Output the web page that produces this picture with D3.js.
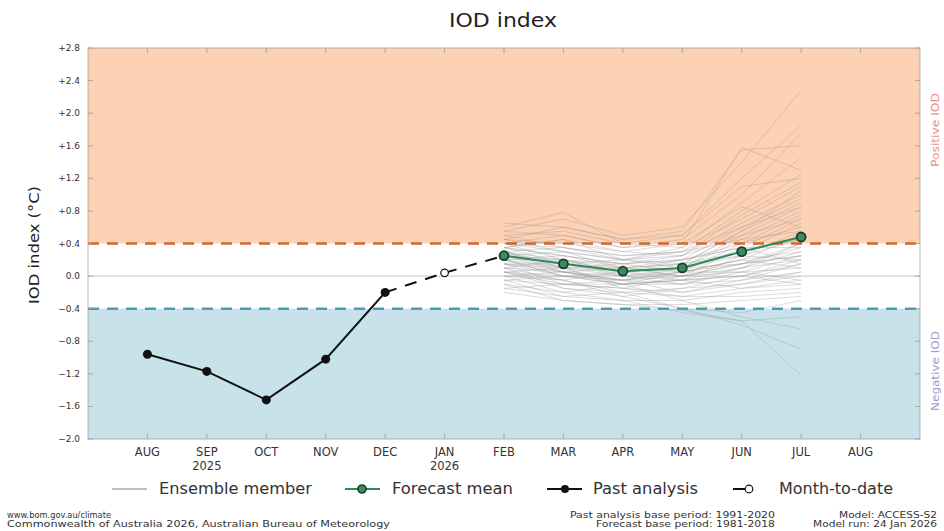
<!DOCTYPE html>
<html>
<head>
    <meta charset="utf-8">
    <script src="https://d3js.org/d3.v7.min.js"></script>
    <style>
        body { margin: 0; background: #fff; }
        svg text { font-family: "DejaVu Sans", sans-serif; }
    </style>
</head>
<body>
    <svg width="944" height="531"></svg>
    <script>
        // month positions: index 0 = AUG 2025 ... 12 = AUG 2026
        const months = ["AUG", "SEP", "OCT", "NOV", "DEC", "JAN", "FEB", "MAR", "APR", "MAY", "JUN", "JUL", "AUG"]
        const yearLabels = {1: "2025", 5: "2026"}
        const yTicks = [2.8, 2.4, 2.0, 1.6, 1.2, 0.8, 0.4, 0.0, -0.4, -0.8, -1.2, -1.6, -2.0]

        // past analysis AUG..DEC
        const pastIdx = [0, 1, 2, 3, 4]
        const pastVal = [-0.96, -1.17, -1.52, -1.02, -0.20]
        // month to date (JAN)
        const mtdIdx = 5
        const mtdVal = 0.04
        // forecast mean FEB..JUL
        const fcIdx = [6, 7, 8, 9, 10, 11]
        const fcVal = [0.25, 0.15, 0.06, 0.10, 0.30, 0.48]

        // ensemble members FEB..JUL (approximate)
        const ensemble = [
            [0.55, 0.70, 0.50, 0.60, 1.40, 2.28],
            [0.45, 0.60, 0.45, 0.55, 1.55, 1.60],
            [0.60, 0.78, 0.40, 0.50, 1.20, 1.85],
            [0.40, 0.50, 0.35, 0.45, 1.00, 1.75],
            [0.35, 0.45, 0.30, 0.40, 1.58, 1.30],
            [0.50, 0.55, 0.40, 0.35, 0.90, 1.45],
            [0.30, 0.35, 0.25, 0.30, 0.80, 1.25],
            [0.65, 0.60, 0.45, 0.50, 1.10, 1.20],
            [0.25, 0.30, 0.20, 0.35, 0.70, 1.10],
            [0.45, 0.40, 0.30, 0.25, 0.65, 1.00],
            [0.35, 0.25, 0.15, 0.20, 0.60, 0.95],
            [0.20, 0.20, 0.10, 0.15, 0.55, 0.90],
            [0.30, 0.10, 0.05, 0.10, 0.50, 0.85],
            [0.15, 0.15, 0.20, 0.30, 0.45, 0.80],
            [0.40, 0.30, 0.10, 0.05, 0.40, 0.75],
            [0.10, 0.05, -0.05, 0.00, 0.35, 0.70],
            [0.25, 0.20, 0.00, 0.10, 0.30, 0.65],
            [0.05, 0.10, 0.10, 0.20, 0.40, 0.60],
            [0.20, 0.00, -0.10, -0.05, 0.25, 0.55],
            [0.35, 0.25, 0.15, 0.05, 0.20, 0.50],
            [0.00, -0.05, 0.05, 0.15, 0.30, 0.45],
            [0.30, 0.15, 0.00, -0.10, 0.10, 0.40],
            [0.15, 0.10, -0.15, 0.00, 0.15, 0.35],
            [-0.05, -0.10, -0.05, 0.05, 0.20, 0.30],
            [0.25, 0.05, 0.10, 0.00, 0.05, 0.25],
            [0.10, -0.15, -0.20, -0.15, 0.00, 0.20],
            [0.40, 0.20, 0.05, 0.20, 0.35, 0.15],
            [-0.10, -0.20, -0.10, -0.10, 0.05, 0.10],
            [0.20, 0.00, -0.05, -0.20, -0.05, 0.05],
            [0.05, -0.05, -0.25, -0.15, -0.10, 0.00],
            [-0.15, -0.25, -0.20, -0.25, -0.15, -0.05],
            [0.30, 0.10, -0.10, -0.05, 0.00, -0.10],
            [0.00, -0.20, -0.30, -0.30, -0.20, -0.15],
            [0.15, -0.10, -0.15, -0.25, -0.25, -0.20],
            [-0.20, -0.30, -0.35, -0.35, -0.30, -0.25],
            [0.10, -0.05, -0.20, -0.40, -0.45, -0.30],
            [-0.05, -0.25, -0.30, -0.45, -0.55, -0.50],
            [0.20, 0.05, -0.10, -0.30, -0.50, -0.65],
            [0.05, -0.15, -0.25, -0.40, -0.60, -0.90],
            [-0.10, -0.30, -0.35, -0.42, -0.55, -1.22],
            [0.50, 0.35, 0.25, 0.30, 0.60, 0.85],
            [0.35, 0.45, 0.20, 0.25, 0.75, 1.15],
            [0.55, 0.50, 0.35, 0.40, 0.85, 0.60],
            [0.25, 0.15, 0.05, 0.00, 0.15, 0.40],
            [0.15, 0.00, -0.05, 0.10, 0.25, 0.20],
            [0.40, 0.35, 0.20, 0.10, 0.45, 0.55],
            [0.20, 0.10, 0.00, -0.05, 0.10, 0.30],
            [0.30, 0.20, 0.15, 0.25, 0.50, 0.70],
            [0.05, 0.00, -0.10, 0.05, 0.20, 0.10],
            [0.45, 0.30, 0.20, 0.15, 0.55, 1.05],
            [0.10, 0.20, 0.05, 0.10, 0.15, 0.25],
            [0.25, 0.10, 0.15, 0.20, 0.35, 0.35],
            [0.00, 0.05, -0.05, -0.10, -0.05, 0.15],
            [0.35, 0.15, 0.10, 0.15, 0.25, 0.45],
            [-0.15, -0.10, -0.15, -0.20, -0.10, 0.05],
            [0.20, 0.25, 0.10, 0.00, 0.10, 0.20],
            [0.15, 0.05, 0.00, 0.05, 0.05, -0.05],
            [0.05, -0.10, -0.10, -0.05, 0.00, 0.15],
            [0.30, 0.05, -0.05, 0.05, 0.15, 0.25],
            [-0.05, 0.00, 0.05, -0.05, -0.15, -0.10]
        ]

        const posThresh = 0.4
        const negThresh = -0.4

        const svg = d3.select("svg")
        const L = 88, R = 920, T = 48, B = 439

        const x = d3.scaleLinear().domain([-1, 13]).range([L, R])
        const y = d3.scaleLinear().domain([-2.0, 2.8]).range([B, T])

        // background bands
        svg.append("rect").attr("x", L).attr("y", y(2.8)).attr("width", R - L)
            .attr("height", y(posThresh) - y(2.8)).attr("fill", "#fdd1b3")
        svg.append("rect").attr("x", L).attr("y", y(negThresh)).attr("width", R - L)
            .attr("height", y(-2.0) - y(negThresh)).attr("fill", "#c8e2ea")

        // zero line
        svg.append("line").attr("x1", L).attr("x2", R).attr("y1", y(0)).attr("y2", y(0))
            .attr("stroke", "#c8c8c8").attr("stroke-width", 1)

        // ensemble
        const line = d3.line().x(d => x(d[0])).y(d => y(d[1]))
        svg.append("g").selectAll("path")
            .data(ensemble)
            .enter()
            .append("path")
            .attr("d", d => line(d.map((v, i) => [fcIdx[i], v])))
            .attr("fill", "none")
            .attr("stroke", "#999")
            .attr("stroke-opacity", 0.4)
            .attr("stroke-width", 0.9)

        // threshold lines
        svg.append("line").attr("x1", L).attr("x2", R).attr("y1", y(posThresh)).attr("y2", y(posThresh))
            .attr("stroke", "#d2682e").attr("stroke-width", 2.5).attr("stroke-dasharray", "11,8")
        svg.append("line").attr("x1", L).attr("x2", R).attr("y1", y(negThresh)).attr("y2", y(negThresh))
            .attr("stroke", "#4c9bb6").attr("stroke-width", 2.5).attr("stroke-dasharray", "11,8")

        // border
        svg.append("rect").attr("x", L).attr("y", T).attr("width", R - L).attr("height", B - T)
            .attr("fill", "none").attr("stroke", "#a0a0a0").attr("stroke-width", 0.8)

        // ticks inside
        const tickG = svg.append("g").attr("stroke", "#999").attr("stroke-width", 0.8)
        yTicks.forEach(v => {
            tickG.append("line").attr("x1", L).attr("x2", L + 5).attr("y1", y(v)).attr("y2", y(v))
            tickG.append("line").attr("x1", R - 5).attr("x2", R).attr("y1", y(v)).attr("y2", y(v))
        })
        months.forEach((m, i) => {
            tickG.append("line").attr("x1", x(i)).attr("x2", x(i)).attr("y1", B).attr("y2", B - 5)
            tickG.append("line").attr("x1", x(i)).attr("x2", x(i)).attr("y1", T).attr("y2", T + 5)
        })

        // y tick labels
        const fmt = v => v > 0 ? "+" + v.toFixed(1) : (v < 0 ? "\u2212" + Math.abs(v).toFixed(1) : "0.0")
        svg.append("g").selectAll("text")
            .data(yTicks)
            .enter()
            .append("text")
            .attr("x", L - 8)
            .attr("y", d => y(d) + 3)
            .attr("text-anchor", "end")
            .attr("font-size", 9)
            .attr("fill", "#333")
            .text(fmt)

        // month labels
        svg.append("g").selectAll("text")
            .data(months)
            .enter()
            .append("text")
            .attr("x", (d, i) => x(i))
            .attr("y", 456)
            .attr("text-anchor", "middle")
            .attr("font-size", 11.5)
            .attr("fill", "#333")
            .text(d => d)
        Object.keys(yearLabels).forEach(k => {
            svg.append("text").attr("x", x(+k)).attr("y", 470).attr("text-anchor", "middle")
                .attr("font-size", 11.5).attr("fill", "#333").text(yearLabels[k])
        })

        // month-to-date dashed link DEC -> JAN -> FEB
        const linkPts = [[pastIdx[pastIdx.length - 1], pastVal[pastVal.length - 1]], [mtdIdx, mtdVal], [fcIdx[0], fcVal[0]]]
        svg.append("path").attr("d", line(linkPts)).attr("fill", "none")
            .attr("stroke", "#111").attr("stroke-width", 2).attr("stroke-dasharray", "12,9")

        // past analysis
        const pastPts = pastIdx.map((d, i) => [d, pastVal[i]])
        svg.append("path").attr("d", line(pastPts)).attr("fill", "none")
            .attr("stroke", "#111").attr("stroke-width", 2)
        svg.append("g").selectAll("circle")
            .data(pastPts)
            .enter()
            .append("circle")
            .attr("cx", d => x(d[0]))
            .attr("cy", d => y(d[1]))
            .attr("r", 4.5)
            .attr("fill", "#111")

        svg.append("circle").attr("cx", x(mtdIdx)).attr("cy", y(mtdVal)).attr("r", 3.8)
            .attr("fill", "#fff").attr("stroke", "#111").attr("stroke-width", 1.2)

        // forecast mean
        const fcPts = fcIdx.map((d, i) => [d, fcVal[i]])
        svg.append("path").attr("d", line(fcPts)).attr("fill", "none")
            .attr("stroke", "#2e8b57").attr("stroke-width", 2)
        svg.append("g").selectAll("circle")
            .data(fcPts)
            .enter()
            .append("circle")
            .attr("cx", d => x(d[0]))
            .attr("cy", d => y(d[1]))
            .attr("r", 4.5)
            .attr("fill", "#3d8a60")
            .attr("stroke", "#173f2a")
            .attr("stroke-width", 1.8)

        // stretched text helper (reference is a little wider than the font)
        function txt(g, xx, yy, s, size, len, anchor) {
            return g.append("text").attr("x", xx).attr("y", yy).attr("font-size", size)
                .attr("text-anchor", anchor || "start")
                .attr("textLength", len).attr("lengthAdjust", "spacingAndGlyphs").text(s)
        }

        // title and axis label
        txt(svg, 503, 27, "IOD index", 19, 108, "middle").attr("fill", "#222")
        svg.append("text").attr("transform", "translate(39,245) rotate(-90)")
            .attr("text-anchor", "middle").attr("font-size", 14).attr("fill", "#222")
            .attr("textLength", 118).attr("lengthAdjust", "spacingAndGlyphs").text("IOD index (\u00b0C)")

        // side labels
        svg.append("text").attr("transform", "translate(939,130) rotate(-90)")
            .attr("text-anchor", "middle").attr("font-size", 11).attr("fill", "#f08a8a")
            .attr("textLength", 74).attr("lengthAdjust", "spacingAndGlyphs").text("Positive IOD")
        svg.append("text").attr("transform", "translate(939,371) rotate(-90)")
            .attr("text-anchor", "middle").attr("font-size", 11).attr("fill", "#9c9cc6")
            .attr("textLength", 80).attr("lengthAdjust", "spacingAndGlyphs").text("Negative IOD")

        // legend
        const ly = 489
        const leg = svg.append("g").attr("fill", "#333")
        leg.append("line").attr("x1", 112).attr("x2", 147).attr("y1", ly).attr("y2", ly)
            .attr("stroke", "#a8a8a8").attr("stroke-width", 1.5)
        txt(leg, 159, ly + 5, "Ensemble member", 15.5, 153)
        leg.append("line").attr("x1", 345).attr("x2", 380).attr("y1", ly).attr("y2", ly)
            .attr("stroke", "#2e8b57").attr("stroke-width", 2)
        leg.append("circle").attr("cx", 362).attr("cy", ly).attr("r", 4).attr("fill", "#3d8a60")
            .attr("stroke", "#173f2a").attr("stroke-width", 1.6)
        txt(leg, 392, ly + 5, "Forecast mean", 15.5, 121)
        leg.append("line").attr("x1", 547).attr("x2", 582).attr("y1", ly).attr("y2", ly)
            .attr("stroke", "#111").attr("stroke-width", 2)
        leg.append("circle").attr("cx", 565).attr("cy", ly).attr("r", 4).attr("fill", "#111")
        txt(leg, 593, ly + 5, "Past analysis", 15.5, 105)
        leg.append("line").attr("x1", 733).attr("x2", 745).attr("y1", ly).attr("y2", ly)
            .attr("stroke", "#111").attr("stroke-width", 2)
        leg.append("circle").attr("cx", 749).attr("cy", ly).attr("r", 3.8).attr("fill", "#fff")
            .attr("stroke", "#111").attr("stroke-width", 1.2)
        txt(leg, 779, ly + 5, "Month-to-date", 15.5, 114)

        // footer
        const foot = svg.append("g").attr("fill", "#333")
        txt(foot, 7, 518, "www.bom.gov.au/climate", 8.5, 104)
        txt(foot, 7, 527, "Commonwealth of Australia 2026, Australian Bureau of Meteorology", 8.5, 383)
        txt(foot, 775, 518, "Past analysis base period: 1991-2020", 8.5, 205, "end")
        txt(foot, 775, 527, "Forecast base period: 1981-2018", 8.5, 179, "end")
        txt(foot, 937, 518, "Model: ACCESS-S2", 8.5, 98, "end")
        txt(foot, 937, 527, "Model run: 24 Jan 2026", 8.5, 124, "end")
    </script>
</body>
</html>
